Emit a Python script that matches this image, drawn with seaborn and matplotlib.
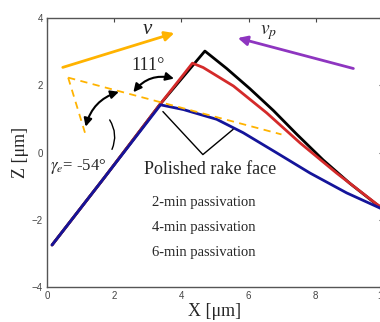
import matplotlib
matplotlib.use('Agg')
import matplotlib.pyplot as plt
import numpy as np
import pandas as pd
import seaborn as sns

sns.set_style('white')
plt.rcParams['font.family'] = ['Liberation Serif', 'DejaVu Serif']

# --- profile data ---
x_2min = [0.15, 1.68, 3.36, 4.70, 5.35, 6.04, 6.74, 7.43, 8.22, 9.02, 9.91, 10.2]
z_2min = [-2.75, -0.78, 1.43, 3.02, 2.50, 1.90, 1.25, 0.55, -0.22, -0.92, -1.62, -1.85]
x_4min = [0.15, 1.68, 3.36, 4.33, 4.65, 5.55, 6.54, 7.53, 8.62, 9.81, 10.2]
z_4min = [-2.75, -0.78, 1.43, 2.66, 2.53, 1.98, 1.18, 0.29, -0.61, -1.53, -1.8]
x_6min = [0.15, 1.68, 3.38, 4.06, 5.05, 5.84, 6.84, 7.83, 8.92, 9.91, 10.2]
z_6min = [-2.75, -0.78, 1.42, 1.28, 0.99, 0.59, -0.01, -0.61, -1.20, -1.65, -1.8]

labels = ['2-min passivation', '4-min passivation', '6-min passivation']
colors = ['black', '#d42a2a', '#14149a']

# helper lines (dashed orange rake / edge construction)
rake_x = [0.63, 6.98]
rake_z = [2.23, 0.54]
edge_x = [0.63, 1.13]
edge_z = [2.23, 0.59]

frames = []
for lab, xs, zs in zip(labels, [x_2min, x_4min, x_6min], [z_2min, z_4min, z_6min]):
    frames.append(pd.DataFrame({'x': xs, 'z': zs, 'run': lab}))
df = pd.concat(frames)

fig = plt.figure(figsize=(3.8, 3.22), dpi=100)
ax = fig.add_axes([0.1237, 0.1087, 0.884, 0.835])

sns.lineplot(data=df, x='x', y='z', hue='run', palette=colors, sort=False,
             estimator=None, linewidth=2, legend=False, ax=ax)

ax.plot(rake_x, rake_z, color='#ffb300', ls='--', lw=1.3, dashes=(4, 3))
ax.plot(edge_x, edge_z, color='#ffb300', ls='--', lw=1.3, dashes=(4, 3))

# velocity arrows
ax.annotate('', xy=(3.87, 3.58), xytext=(0.39, 2.51),
            arrowprops=dict(arrowstyle='-|>', color='#ffb300', lw=2, mutation_scale=14))
ax.text(3.0, 3.65, 'v', fontsize=15, style='italic', ha='center', va='center')
ax.annotate('', xy=(5.6, 3.43), xytext=(9.2, 2.48),
            arrowprops=dict(arrowstyle='-|>', color='#8e35c0', lw=2, mutation_scale=14))
ax.text(6.6, 3.58, r'$v_p$', fontsize=14, ha='center', va='center',
        math_fontfamily='stix')

# angle markers
ax.annotate('', xy=(2.52, 1.73), xytext=(3.86, 2.18),
            arrowprops=dict(arrowstyle='<|-|>', color='black', lw=1.5,
                            connectionstyle='arc3,rad=0.35', mutation_scale=12))
ax.text(3.01, 2.58, '111°', fontsize=13, ha='center', va='center')
ax.annotate('', xy=(2.22, 1.83), xytext=(1.13, 0.69),
            arrowprops=dict(arrowstyle='<|-|>', color='black', lw=1.5,
                            connectionstyle='arc3,rad=-0.3', mutation_scale=12))
ax.annotate('', xy=(1.82, 1.04), xytext=(1.9, 0.02),
            arrowprops=dict(arrowstyle='-', color='black', lw=1,
                            connectionstyle='arc3,rad=0.3'))
ax.text(0.09, -0.42, r'$\gamma_e$= -54°', fontsize=12, ha='left', va='center',
        math_fontfamily='stix')

# polished rake face pointer
ax.plot([3.45, 4.64, 5.54], [1.22, -0.06, 0.69], color='black', lw=1)
ax.text(4.85, -0.5, 'Polished rake face', fontsize=13, ha='center', va='center')

for i, lab in enumerate(labels):
    ax.text(3.12, -1.49 - 0.74 * i, lab, fontsize=10.5, ha='left', va='center')

ax.set_xlim(0, 10)
ax.set_ylim(-4, 4)
ax.set_xticks([0, 2, 4, 6, 8, 10])
ax.set_yticks([-4, -2, 0, 2, 4])
ax.tick_params(direction='in', length=3, width=0.8, top=True, right=True,
               labelsize=7, colors='#444444', pad=3)
for lbl in ax.get_xticklabels() + ax.get_yticklabels():
    lbl.set_family('Liberation Sans')
for sp in ax.spines.values():
    sp.set_color('#555555')
    sp.set_linewidth(1)
ax.set_xlabel('X [μm]', fontsize=13, labelpad=1)
ax.set_ylabel('Z [μm]', fontsize=13, labelpad=2)

fig.savefig('out.png', dpi=100)
